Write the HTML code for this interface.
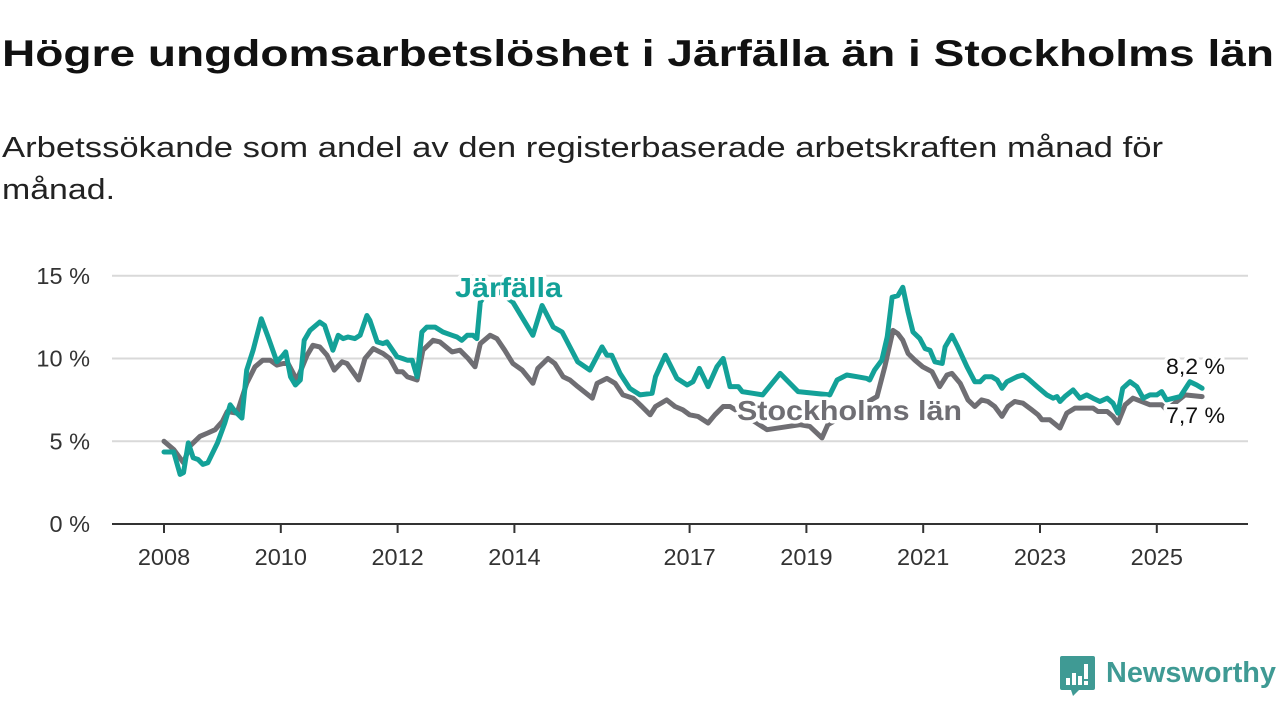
<!DOCTYPE html>
<html><head><meta charset="utf-8">
<style>
html,body{margin:0;padding:0;background:#fff;}
svg{display:block;font-family:"Liberation Sans","DejaVu Sans",sans-serif;}
.halo{paint-order:stroke;stroke:#fff;stroke-width:7px;stroke-linejoin:round;}
</style></head>
<body>
<svg id="chart" width="1280" height="720" viewBox="0 0 1280 720">
  <text x="2" y="66" font-size="37" font-weight="bold" fill="#111" textLength="1272" lengthAdjust="spacingAndGlyphs">Högre ungdomsarbetslöshet i Järfälla än i Stockholms län</text>
  <text x="2" y="157" font-size="29" fill="#222" textLength="1161" lengthAdjust="spacingAndGlyphs">Arbetssökande som andel av den registerbaserade arbetskraften månad för</text>
  <text x="2" y="199" font-size="29" fill="#222" textLength="113" lengthAdjust="spacingAndGlyphs">månad.</text>
  <g id="grid"></g>
  <g id="yticks"></g>
  <g id="xticks"></g>
  <g id="lines"></g>
  <g id="labels">
    <text class="halo" x="455" y="297" font-size="28" font-weight="bold" fill="#13a198" textLength="107" lengthAdjust="spacingAndGlyphs">Järfälla</text>
    <text class="halo" x="737" y="420" font-size="28" font-weight="bold" fill="#6f6e73" textLength="225" lengthAdjust="spacingAndGlyphs">Stockholms län</text>
    <text class="halo" x="1166" y="374" font-size="22" fill="#111" textLength="59" lengthAdjust="spacingAndGlyphs">8,2 %</text>
    <text class="halo" x="1166" y="423" font-size="22" fill="#111" textLength="59" lengthAdjust="spacingAndGlyphs">7,7 %</text>
  </g>
  <g>
    <path d="M1062 656 h31 a2 2 0 0 1 2 2 v30 a2 2 0 0 1 -2 2 h-14 l-6 6 l-2 -6 h-9 a2 2 0 0 1 -2 -2 v-30 a2 2 0 0 1 2 -2z" fill="#3f9a94"/>
    <rect x="1066" y="678" width="4" height="7" fill="#fff"/>
    <rect x="1072" y="673" width="4" height="12" fill="#fff"/>
    <rect x="1078" y="676" width="4" height="9" fill="#fff"/>
    <rect x="1084" y="664" width="4" height="15" fill="#fff"/>
    <rect x="1084" y="681" width="4" height="4" fill="#fff"/>
    <text x="1106" y="682" font-size="29" font-weight="bold" fill="#3f9a94" textLength="170" lengthAdjust="spacingAndGlyphs">Newsworthy</text>
  </g>
</svg>
<script>
const yTicks = [0, 5, 10, 15];
const yTickLabels = ["0 %", "5 %", "10 %", "15 %"];
const xTickYears = [2008, 2010, 2012, 2014, 2017, 2019, 2021, 2023, 2025];
// months since Jan 2008
const jMonths = [0,2,3.3,4,5,6,7,8,9,11,12.5,13.6,14.6,16,17,18.3,20,21.4,23.2,24.2,25,26,27,28,28.8,30,32,33,34.7,35.8,36.8,37.8,39.2,40.3,41.7,42.3,43.8,45,45.8,47.9,49,50,51,52,53,54,55.7,57.3,59.2,60.2,61.2,62.3,63.5,64.3,65,67,69,71.7,75.8,77.7,80,81.8,83.4,85,87.5,90,91,92,93.7,95.7,97.8,100.3,101,103,105.4,107.5,108.7,110,111.8,113.6,114.9,116.3,118,118.8,121,123,126.6,130.3,136.8,138.3,140.3,142.4,144.4,145,146,147.5,148.6,149.6,150.8,151.8,152.9,153.9,155.3,156.4,157.4,158.4,159.9,160.5,161.9,163.1,165,166.6,167.7,168.7,170.1,171.2,172.2,173.2,175.3,176.5,177.5,179.4,181.4,182.7,183.5,184.1,185.1,186.8,188.2,189.6,190.9,192.3,193.8,195,196,197,198.5,199.9,201.2,202.6,204,205,206,208.8,210.8,212.2,213.3];
const jValues = [4.35,4.35,3.0,3.1,4.9,4.0,3.9,3.6,3.7,4.9,6.1,7.2,6.8,6.4,9.3,10.5,12.4,11.3,9.8,10.1,10.4,8.9,8.4,8.7,11.1,11.7,12.2,12.0,10.5,11.4,11.2,11.3,11.2,11.4,12.6,12.3,11.0,10.9,11.0,10.1,10.0,9.9,9.9,8.9,11.6,11.9,11.9,11.6,11.4,11.3,11.1,11.4,11.4,11.2,13.4,14.3,14.0,13.4,11.4,13.2,11.9,11.6,10.7,9.8,9.3,10.7,10.2,10.2,9.1,8.2,7.8,7.9,8.9,10.2,8.8,8.4,8.6,9.4,8.3,9.5,10.0,8.3,8.3,8.0,7.9,7.8,9.1,8.0,7.8,8.7,9.0,8.9,8.8,8.7,9.3,9.9,11.3,13.7,13.8,14.3,12.8,11.6,11.2,10.6,10.5,9.8,9.7,10.7,11.4,10.7,9.5,8.6,8.6,8.9,8.9,8.7,8.2,8.6,8.9,9.0,8.8,8.3,7.8,7.6,7.7,7.4,7.7,8.1,7.6,7.8,7.6,7.4,7.6,7.3,6.7,8.2,8.6,8.3,7.6,7.8,7.8,8.0,7.5,7.7,8.6,8.4,8.2];
const sMonths = [0,2,4,5.3,7.4,9,10.5,12,13,15,17,18.7,20.3,21.8,23.2,24.5,25.5,27.3,29.4,30.6,32,33.5,35,36.6,37.6,40,41.3,43,45,46.4,47.9,49,50,52,53.2,55.3,56.7,59.2,60.8,62.5,63.9,65,67,68.4,70,71.7,73.6,75.8,76.8,78.9,80.3,82,83.4,85,88,89,91,92.7,94.3,96.4,98.2,99.9,101,103.3,105,106.6,108,109.7,111.8,113.2,114.9,116.3,121.8,123.9,130.7,132.7,135.2,136.4,146.5,148.1,149.8,150.8,151.8,152.9,154.3,155.9,157.8,159.4,160.9,161.9,163.6,165.2,166.6,168,169.3,170.7,172.2,173.4,174.8,176.5,178.3,179.6,180.4,182,184.1,185.5,187.2,190.9,191.9,193.8,195,196,197.5,199.1,200.9,202.6,205,206,209.8,213.3];
const sValues = [5.0,4.5,3.7,4.7,5.3,5.5,5.7,6.2,6.8,6.7,8.5,9.5,9.9,9.9,9.6,9.7,9.7,8.7,10.2,10.8,10.7,10.2,9.3,9.8,9.7,8.7,10.0,10.6,10.3,10.0,9.2,9.2,8.9,8.7,10.5,11.1,11.0,10.4,10.5,10.0,9.5,10.9,11.4,11.2,10.5,9.7,9.3,8.5,9.4,10.0,9.7,8.9,8.7,8.3,7.6,8.5,8.8,8.5,7.8,7.6,7.1,6.6,7.1,7.5,7.1,6.9,6.6,6.5,6.1,6.6,7.1,7.1,6.1,5.7,6.0,5.9,5.2,6.0,7.7,9.5,11.7,11.5,11.1,10.3,9.9,9.5,9.2,8.3,9.0,9.1,8.5,7.5,7.1,7.5,7.4,7.1,6.5,7.1,7.4,7.3,6.9,6.6,6.3,6.3,5.8,6.7,7.0,7.0,6.8,6.8,6.5,6.1,7.2,7.6,7.4,7.2,7.2,6.9,7.8,7.7];

const NS = "http://www.w3.org/2000/svg";
const X0 = 164, PXM = 58.4 / 12, Y0 = 524, PXV = 16.55;
const xM = m => X0 + m * PXM;
const xYear = y => X0 + (y - 2008) * 58.4;
const yV = v => Y0 - v * PXV;
function mk(tag, attrs, parent) {
  const e = document.createElementNS(NS, tag);
  for (const k in attrs) e.setAttribute(k, attrs[k]);
  parent.appendChild(e);
  return e;
}
const grid = document.getElementById('grid');
const yt = document.getElementById('yticks');
yTicks.forEach((v, i) => {
  if (v !== 0) {
    const g = mk('line', {x1:112, x2:1248, y1:yV(v), y2:yV(v), stroke:'#d9d9d9', 'stroke-width':2}, grid);
    
    
  }
  const t = mk('text', {x:90, y:yV(v)+8, 'font-size':23.5, fill:'#333', 'text-anchor':'end'}, yt);
  t.textContent = yTickLabels[i];
  
  
});
const xt = document.getElementById('xticks');
const ax = mk('line', {x1:112, x2:1248, y1:Y0, y2:Y0, stroke:'#333', 'stroke-width':2}, xt);


xTickYears.forEach(yr => {
  const x = xYear(yr);
  const tk = mk('line', {x1:x, x2:x, y1:Y0, y2:Y0+9, stroke:'#333', 'stroke-width':2}, xt);
  
  
  const t = mk('text', {x:x, y:565, 'font-size':23.5, fill:'#333', 'text-anchor':'middle'}, xt);
  t.textContent = String(yr);
  
  
});
const lines = document.getElementById('lines');
function series(ms, vs, color, name) {
  const d = ms.map((m, i) => (i ? 'L' : 'M') + xM(m).toFixed(1) + ' ' + yV(vs[i]).toFixed(1)).join(' ');
  const p = mk('path', {d:d, fill:'none', stroke:color, 'stroke-width':5, 'stroke-linejoin':'round', 'stroke-linecap':'round'}, lines);
  
  
}
series(sMonths, sValues, '#6f6e73', 'line-stockholms-lan');
series(jMonths, jValues, '#13a198', 'line-jarfalla');
</script>
</body></html>
